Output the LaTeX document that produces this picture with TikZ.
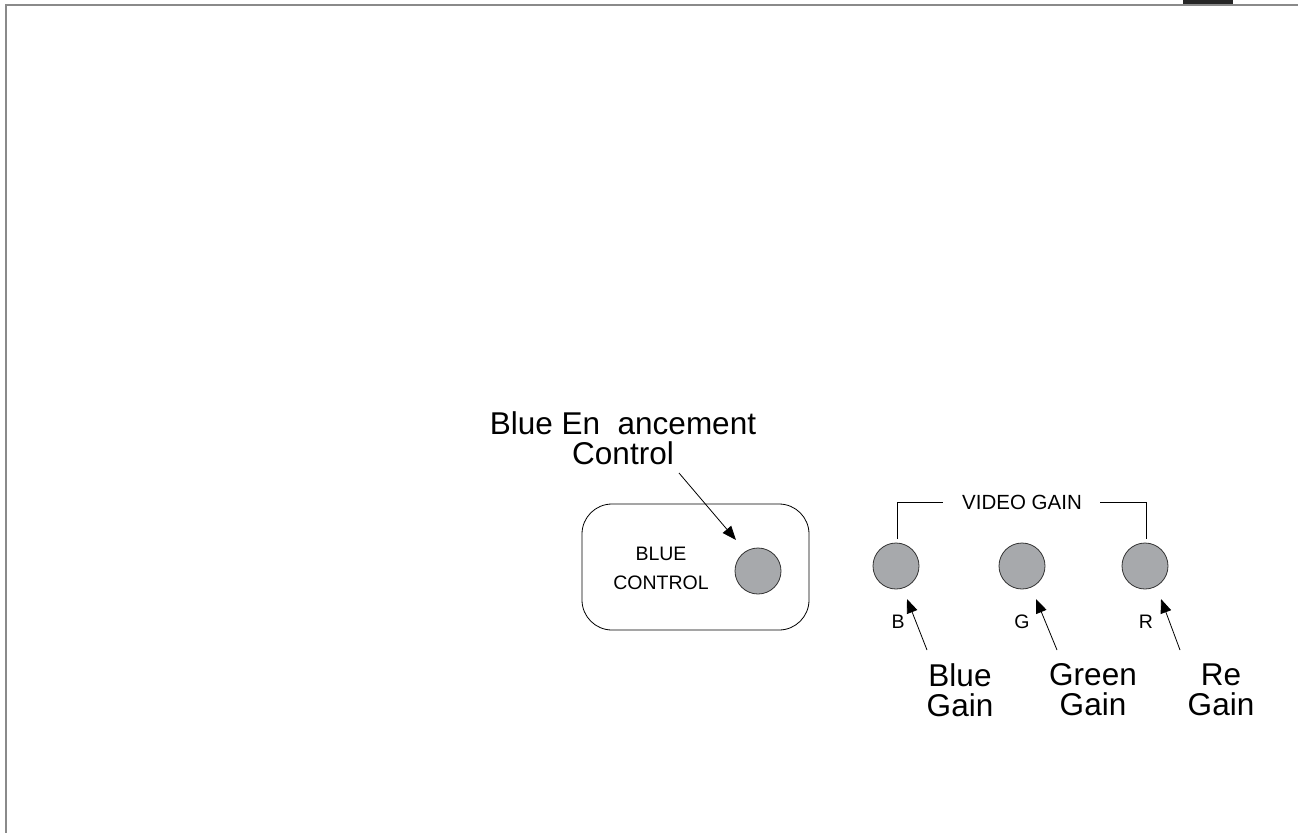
\documentclass[tikz,border=0pt]{standalone}
\usepackage{fontspec}
\setmainfont{Liberation Sans}
\usetikzlibrary{arrows.meta}
\definecolor{knobgray}{HTML}{A7A9AC}
\definecolor{framegray}{HTML}{8A8A8A}
\begin{document}
\begin{tikzpicture}[x=1pt,y=-1pt,
  knob/.style={circle,draw=black!80,fill=knobgray,line width=0.8pt,minimum size=46pt,inner sep=0pt},
  biglabel/.style={font=\fontsize{31.5}{30}\selectfont,align=center,inner sep=0pt},
  smalllabel/.style={font=\fontsize{19.5}{29}\selectfont,align=center,inner sep=0pt},
  pointer/.style={line width=0.8pt,-{Triangle[length=14pt,width=11pt]}},
  bracket/.style={line width=0.8pt}]
\useasboundingbox (0,0) rectangle (1298,833);
% frame
\draw[framegray,line width=2pt] (5,5) -- (1298,5);
\draw[framegray,line width=2pt] (6,5) -- (6,833);
\fill[black!85] (1183,0) rectangle (1233,4);
% blue control box
\draw[line width=0.8pt,rounded corners=30pt] (582,504) rectangle (809,630);
\node[knob] (bk) at (758,571) {};
\node[smalllabel] (bc) at (661,568) {BLUE\\CONTROL};
\node[biglabel] (be) at (623,438) {Blue En\hspace{0.556em}ancement\\Control};
\coordinate (beS) at (679,473);
\coordinate (beT) at (736,540);
\draw[pointer] (beS) -- (beT);
% video gain knobs
\node[knob] (kb) at (896,566) {};
\node[knob] (kg) at (1022,566) {};
\node[knob] (kr) at (1145,566) {};
\node[smalllabel,font=\fontsize{20.5}{24}\selectfont] (vg) at (1022,502) {VIDEO GAIN};
\coordinate (bl1) at (897,539);
\coordinate (bl2) at (897,502);
\coordinate (bl3) at (943,502);
\coordinate (br1) at (1100,502);
\coordinate (br2) at (1146,502);
\coordinate (br3) at (1146,539);
\draw[bracket] (bl1) -- (bl2) -- (bl3);
\draw[bracket] (br1) -- (br2) -- (br3);
% letters
\node[smalllabel] (lb) at (898,622) {B};
\node[smalllabel] (lg) at (1022,622) {G};
\node[smalllabel] (lr) at (1146,622) {R};
% gain labels
\node[biglabel] (gb) at (960,690) {Blue\\Gain};
\node[biglabel] (gg) at (1093,690) {Green\\Gain};
\node[biglabel] (gr) at (1221,690) {Re\\Gain};
\coordinate (ab) at (927,650);
\coordinate (ag) at (1057,650);
\coordinate (ar) at (1180,650);
\coordinate (tb) at (907,599);
\coordinate (tg) at (1036,599);
\coordinate (tr) at (1161,599);
\draw[pointer] (ab) -- (tb);
\draw[pointer] (ag) -- (tg);
\draw[pointer] (ar) -- (tr);
\end{tikzpicture}
\end{document}
